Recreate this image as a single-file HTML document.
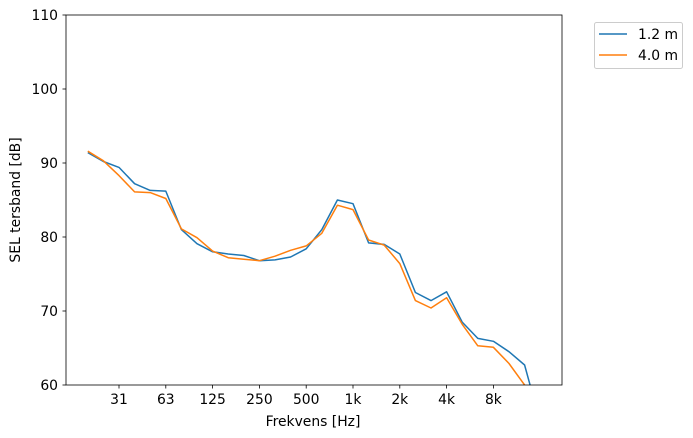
<!DOCTYPE html>
<html><head><meta charset="utf-8"><style>
html,body{margin:0;padding:0;background:#fff;}
svg{display:block;font-family:"DejaVu Sans","Liberation Sans",sans-serif;}
</style></head><body>
<svg width="693" height="438" viewBox="0 0 693 438" xmlns="http://www.w3.org/2000/svg">
<defs><clipPath id="c"><rect x="66" y="15" width="496" height="370"/></clipPath></defs>
<rect width="693" height="438" fill="#fff"/>
<g clip-path="url(#c)" fill="none" stroke-width="1.5" stroke-linejoin="round">
<polyline id="b" stroke="#1f77b4" points=""/>
<polyline id="o" stroke="#ff7f0e" points=""/>
</g>
<rect x="66" y="15" width="496" height="370" fill="none" stroke="#000" stroke-width="0.8"/>
<g font-size="13.9" fill="#000" text-anchor="end">
<line x1="62.5" y1="15" x2="66" y2="15" stroke="#000" stroke-width="0.8"/><text x="58" y="20">110</text>
<line x1="62.5" y1="89" x2="66" y2="89" stroke="#000" stroke-width="0.8"/><text x="58" y="94">100</text>
<line x1="62.5" y1="163" x2="66" y2="163" stroke="#000" stroke-width="0.8"/><text x="58" y="168">90</text>
<line x1="62.5" y1="237" x2="66" y2="237" stroke="#000" stroke-width="0.8"/><text x="58" y="242">80</text>
<line x1="62.5" y1="311" x2="66" y2="311" stroke="#000" stroke-width="0.8"/><text x="58" y="316">70</text>
<line x1="62.5" y1="385" x2="66" y2="385" stroke="#000" stroke-width="0.8"/><text x="58" y="390">60</text>
</g>
<g stroke="#000" stroke-width="0.8">
<line x1="119" y1="385" x2="119" y2="388.5"/>
<line x1="165.8" y1="385" x2="165.8" y2="388.5"/>
<line x1="212.6" y1="385" x2="212.6" y2="388.5"/>
<line x1="259.4" y1="385" x2="259.4" y2="388.5"/>
<line x1="306.2" y1="385" x2="306.2" y2="388.5"/>
<line x1="353" y1="385" x2="353" y2="388.5"/>
<line x1="399.8" y1="385" x2="399.8" y2="388.5"/>
<line x1="446.6" y1="385" x2="446.6" y2="388.5"/>
<line x1="493.4" y1="385" x2="493.4" y2="388.5"/>
</g>
<g font-size="13.9" fill="#000" text-anchor="middle">
<text x="119" y="404">31</text>
<text x="165.8" y="404">63</text>
<text x="212.6" y="404">125</text>
<text x="259.4" y="404">250</text>
<text x="306.2" y="404">500</text>
<text x="353" y="404">1k</text>
<text x="399.8" y="404">2k</text>
<text x="446.6" y="404">4k</text>
<text x="493.4" y="404">8k</text>
</g>
<text x="313" y="426" font-size="13.9" text-anchor="middle">Frekvens [Hz]</text>
<text transform="translate(20,200) rotate(-90)" font-size="13.9" text-anchor="middle">SEL tersband [dB]</text>
<rect x="594.5" y="22.5" width="88" height="46" rx="2" fill="#fff" stroke="#ccc"/>
<line x1="599" y1="34" x2="627" y2="34" stroke="#1f77b4" stroke-width="1.5"/>
<text x="638" y="39" font-size="13.9">1.2 m</text>
<line x1="599" y1="55" x2="627" y2="55" stroke="#ff7f0e" stroke-width="1.5"/>
<text x="638" y="60" font-size="13.9">4.0 m</text>
<script>
var B=[91.4,90.2,89.4,87.2,86.3,86.2,81.0,79.1,78.0,77.7,77.5,76.8,76.9,77.3,78.4,81.0,85.0,84.5,79.2,79.0,77.7,72.5,71.4,72.6,68.5,66.3,65.9,64.5,62.7,55];
var O=[91.6,90.3,88.3,86.1,86.0,85.2,81.1,79.9,78.1,77.2,77.0,76.8,77.4,78.2,78.8,80.5,84.3,83.7,79.6,78.9,76.4,71.4,70.4,71.8,68.2,65.3,65.1,62.9,60.0,54];
function pts(a){return a.map(function(v,i){return (87.8+15.6*i).toFixed(1)+","+(385-(v-60)*7.4).toFixed(1);}).join(" ");}
document.getElementById("b").setAttribute("points",pts(B));
document.getElementById("o").setAttribute("points",pts(O));
</script>
</svg>
</body></html>
